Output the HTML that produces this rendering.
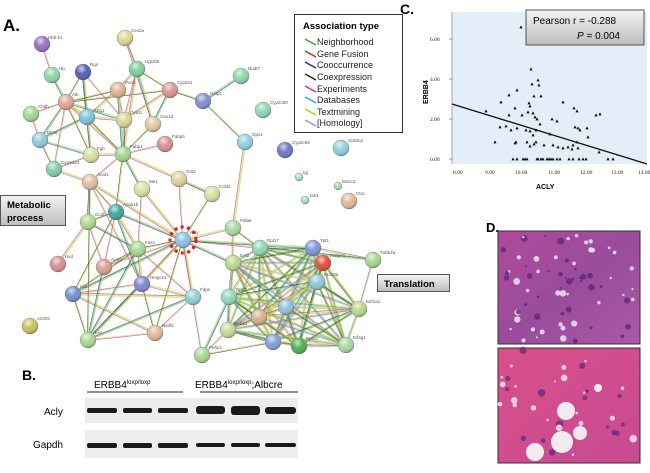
<!DOCTYPE html>
<html><head><meta charset="utf-8"><style>
html,body{margin:0;padding:0;background:#fff;width:650px;height:473px;overflow:hidden}
svg{display:block;font-family:"Liberation Sans",sans-serif}
.nl text{font-size:4.5px;fill:#555}
</style></head><body>
<svg id="s" width="650" height="473" viewBox="0 0 650 473" xmlns="http://www.w3.org/2000/svg">
<defs>
<radialGradient id="g" cx="40%" cy="30%" r="70%"><stop offset="0" stop-color="#fff" stop-opacity=".7"/><stop offset=".5" stop-color="#fff" stop-opacity="0"/><stop offset="1" stop-color="#000" stop-opacity=".25"/></radialGradient>
<linearGradient id="bx" x1="0" y1="0" x2="0" y2="1"><stop offset="0" stop-color="#f4f4f4"/><stop offset="1" stop-color="#bdbdbd"/></linearGradient>
<linearGradient id="he1" x1="0" y1="0" x2="1" y2="1"><stop offset="0" stop-color="#b04a9a"/><stop offset=".5" stop-color="#9a4c9c"/><stop offset="1" stop-color="#a85aa8"/></linearGradient>
<linearGradient id="he2" x1="0" y1="0" x2="1" y2="1"><stop offset="0" stop-color="#d8508a"/><stop offset="1" stop-color="#c84a92"/></linearGradient>
</defs>
<g id="edges"></g>
<g id="nodes"></g>
<g class="nl">
<text x="48" y="39">Hbb-b1</text><text x="131" y="32">Ces2a</text><text x="59" y="70">Hp</text><text x="90" y="66">Rgn</text><text x="145" y="63">Ugt2b5</text><text x="125" y="84">Pon1</text><text x="177" y="84">Cyp2e1</text><text x="210" y="95">Gstp1</text><text x="248" y="70">Nudt7</text><text x="72" y="96">Alb</text><text x="270" y="104">Cyp2c50</text><text x="38" y="108">Chdh</text><text x="94" y="112">Kng1</text><text x="130" y="114">Ces1c</text><text x="160" y="118">Ces1d</text><text x="47" y="134">Bhmt</text><text x="172" y="138">Fabp5</text><text x="252" y="136">Gpx1</text><text x="292" y="144">Cyp2c69</text><text x="348" y="142">Sult3a1</text><text x="97" y="150">Fgb</text><text x="130" y="148">Fabp1</text><text x="61" y="164">Cyp2d10</text><text x="303" y="174">Igj</text><text x="342" y="183">Mosc2</text><text x="97" y="176">Acat1</text><text x="186" y="173">Got2</text><text x="149" y="183">Me1</text><text x="219" y="188">Ccbl2</text><text x="310" y="197">Iah1</text><text x="356" y="195">Ctsc</text><text x="123" y="206">Acaa1b</text><text x="95" y="216">Gcdh</text><text x="240" y="222">Pdia6</text><text x="190" y="234">Acly</text><text x="267" y="242">Rpl17</text><text x="320" y="242">Tpt1</text><text x="145" y="244">Fasn</text><text x="240" y="257">Eef2</text><text x="330" y="257">Pabpc1</text><text x="380" y="254">Tubb2a</text><text x="65" y="258">Hvd</text><text x="111" y="261">Acsl2</text><text x="324" y="276">Rpl13a</text><text x="150" y="279">Hmgcs1</text><text x="80" y="288">Idi1</text><text x="200" y="291">Fdps</text><text x="236" y="291">Rps3</text><text x="366" y="303">Eef1a1</text><text x="37" y="320">As3mt</text><text x="233" y="325">Serbp1</text><text x="162" y="327">Nsdhl</text><text x="95" y="334">Lss</text><text x="306" y="340">Rpl18</text><text x="353" y="339">Eif4g1</text><text x="209" y="349">Pebp1</text>
</g>
<!-- Acly dashed ring -->
<circle cx="183" cy="240" r="13" fill="none" stroke="#e81010" stroke-width="3" stroke-dasharray="3 3.5"/>
<text x="3" y="31" font-size="17" font-weight="bold">A.</text>
<!-- legend -->
<rect x="294.5" y="14.5" width="108" height="118" fill="#fff" stroke="#333" stroke-width="1"/>
<text x="303" y="29" font-size="9.5" font-weight="bold">Association  type</text>
<g font-size="9" fill="#222">
<line x1="305" y1="39" x2="316" y2="45" stroke="#2ab02a" stroke-width="1.5"/><text x="317" y="45">Neighborhood</text>
<line x1="305" y1="51" x2="316" y2="57" stroke="#e82020" stroke-width="1.5"/><text x="317" y="57">Gene Fusion</text>
<line x1="305" y1="62" x2="316" y2="68" stroke="#2030a0" stroke-width="1.5"/><text x="317" y="68">Cooccurrence</text>
<line x1="305" y1="74" x2="316" y2="80" stroke="#222" stroke-width="1.5"/><text x="317" y="80">Coexpression</text>
<line x1="305" y1="86" x2="316" y2="92" stroke="#c030c0" stroke-width="1.5"/><text x="317" y="92">Experiments</text>
<line x1="305" y1="97" x2="316" y2="103" stroke="#20b0d0" stroke-width="1.5"/><text x="317" y="103">Databases</text>
<line x1="305" y1="109" x2="316" y2="115" stroke="#b0d020" stroke-width="1.5"/><text x="317" y="115">Textmining</text>
<line x1="305" y1="120" x2="316" y2="126" stroke="#a090e0" stroke-width="1.5"/><text x="317" y="126">[Homology]</text>
</g>
<rect x="0.5" y="195.5" width="65" height="30" fill="url(#bx)" stroke="#555"/>
<text x="7" y="208" font-size="9.5" font-weight="bold">Metabolic</text>
<text x="7" y="221" font-size="9.5" font-weight="bold">process</text>
<rect x="377.5" y="274.5" width="72" height="17" fill="url(#bx)" stroke="#555"/>
<text x="384" y="287" font-size="9.5" font-weight="bold">Translation</text>

<!-- C -->
<text x="400" y="14" font-size="14" font-weight="bold">C.</text>
<rect x="452" y="12" width="195" height="152" fill="#e3eef8"/>
<line x1="452" y1="12" x2="452" y2="164" stroke="#888" stroke-width=".7"/>
<g id="pts"></g>
<line x1="452" y1="104" x2="647" y2="164" stroke="#111" stroke-width="1.3"/>
<g font-family="Liberation Serif,serif" font-size="5.5" fill="#222">
<text x="430" y="41">6.00</text><text x="430" y="81">4.00</text><text x="430" y="121">2.00</text><text x="430" y="161">0.00</text>
<text x="453" y="174">8.00</text><text x="485" y="174">9.00</text><text x="515" y="174">10.00</text><text x="548" y="174">11.00</text><text x="580" y="174">12.00</text><text x="611" y="174">13.00</text><text x="638" y="174">14.00</text>
</g>
<g stroke="#555" stroke-width=".6"><line x1="449" y1="39" x2="452" y2="39"/><line x1="449" y1="79" x2="452" y2="79"/><line x1="449" y1="119" x2="452" y2="119"/><line x1="449" y1="159" x2="452" y2="159"/></g>
<text x="0" y="0" font-size="7" font-weight="bold" transform="translate(428,104) rotate(-90)">ERBB4</text>
<text x="536" y="189" font-size="7" font-weight="bold">ACLY</text>
<rect x="526" y="10" width="118" height="35" fill="url(#bx)" stroke="#555"/>
<text x="533" y="24" font-size="10">Pearson r = -0.288</text>
<text x="577" y="39" font-size="10"><tspan font-style="italic">P</tspan> = 0.004</text>

<!-- B -->
<text x="22" y="380" font-size="14" font-weight="bold">B.</text>
<text x="94" y="388" font-size="10">ERBB4<tspan font-size="6" dy="-4">loxp/loxp</tspan></text>
<line x1="87" y1="392" x2="183" y2="392" stroke="#222" stroke-width="1"/>
<text x="195" y="388" font-size="10">ERBB4<tspan font-size="6" dy="-4">loxp/loxp</tspan><tspan dy="4">;Albcre</tspan></text>
<line x1="200" y1="392" x2="298" y2="392" stroke="#222" stroke-width="1"/>
<rect x="85" y="398" width="213" height="25" fill="#ececec"/>
<rect x="85" y="430" width="213" height="28" fill="#eeeeee"/>
<text x="44" y="415" font-size="10">Acly</text>
<text x="33" y="448" font-size="10">Gapdh</text>
<g fill="#1a1a1a">
<rect x="87" y="408" width="30" height="5" rx="2"/><rect x="123" y="408" width="29" height="5" rx="2"/><rect x="158" y="408" width="30" height="5" rx="2"/>
<rect x="196" y="406" width="29" height="8" rx="3"/><rect x="231" y="406" width="29" height="9" rx="3"/><rect x="265" y="407" width="31" height="7" rx="3"/>
<rect x="87" y="443" width="30" height="5" rx="2"/><rect x="123" y="443" width="29" height="5" rx="2"/><rect x="158" y="443" width="30" height="5" rx="2"/>
<rect x="196" y="443" width="29" height="4" rx="2"/><rect x="231" y="443" width="29" height="4" rx="2"/><rect x="265" y="443" width="31" height="4" rx="2"/>
</g>

<!-- D -->
<text x="486" y="232" font-size="13" font-weight="bold">D.</text>
<rect x="498" y="231" width="142" height="113" fill="url(#he1)" stroke="#333"/>
<rect x="498" y="348" width="142" height="115" fill="url(#he2)" stroke="#333"/>
<g id="cells"></g>
</svg>
<script>
var N={"Hbb-b1":[42,44,"#9b6fc4"],"Ces2a":[125,38,"#d8d890"],"Hp":[52,75,"#8fd6a8"],"Rgn":[83,72,"#5560b8"],"Ugt2b5":[137,69,"#7fcf9a"],"Pon1":[118,90,"#e0b090"],"Cyp2e1":[170,90,"#d89890"],"Gstp1":[203,101,"#7f8fd0"],"Nudt7":[241,76,"#8fd6a8"],"Alb":[66,102,"#e0a890"],"Cyp2c50":[263,110,"#8fd6b8"],"Chdh":[31,114,"#9fd890"],"Kng1":[87,117,"#80c0e0"],"Ces1c":[124,120,"#d8d890"],"Ces1d":[153,124,"#e0c8a0"],"Btmh":[40,140,"#90c8e0"],"Fabp5":[165,144,"#d89098"],"Gpx1":[245,142,"#90d0e0"],"Cyp2c69":[285,150,"#6f78c8"],"Sult3a1":[341,148,"#90d0d8"],"Fgb":[91,155,"#d0e0a0"],"Fabp1":[123,154,"#9fd890"],"Cyp2d10":[54,169,"#80d0a8"],"Igj":[299,177,"#a0dcd8",4],"Mosc2":[338,186,"#a0dca8",4],"Acat1":[90,182,"#e0c0a0"],"Got2":[179,179,"#e0d0a0"],"Me1":[142,189,"#d8e0a0"],"Cbl2":[212,194,"#d0e0a0"],"Iah1":[305,200,"#a0dcc8",4],"Ctsc":[349,201,"#e0b898"],"Acaa1b":[116,212,"#40a8a0"],"Gcdh":[88,222,"#b0d890"],"Pdia6":[233,228,"#a8d8a0"],"Acly":[183,240,"#90c0e0"],"Rpl17":[260,248,"#90d8b0"],"Tpt1":[313,248,"#8098d8"],"Fasn":[138,249,"#a8d890"],"Eef2":[233,263,"#b8d890"],"Pabpc1":[323,263,"#e05040"],"Tubb2a":[373,260,"#a8d890"],"Hvd":[58,264,"#d89090"],"Acsl":[104,267,"#d8a090"],"Rpl3a":[317,282,"#90c8e0"],"Hmgcs1":[142,284,"#8088d0"],"Idi1":[73,294,"#7090d0"],"Fdps":[193,297,"#90d0d0"],"Rps":[229,297,"#90d8b8"],"Rc":[286,307,"#90c0e0"],"Eef1a1":[359,309,"#b8d890"],"Rb":[259,317,"#d8b090"],"As3mt":[30,326,"#c8c060"],"Srcbe":[228,330,"#c8d898"],"Nsdhl":[155,333,"#e0b898"],"Lss":[88,340,"#a8d890"],"Rbl":[273,342,"#80a0d8"],"Rpl18":[299,346,"#50b050"],"Eif4g1":[346,345,"#a8d8a0"],"Pebp1":[202,355,"#a8d890"]};
var E="Hbb-b1 Hp,Hp Alb,Rgn Alb,Rgn Kng1,Rgn Ces1c,Rgn Fgb,Alb Pon1,Alb Kng1,Alb Chdh,Alb Btmh,Alb Fgb,Alb Fabp1,Alb Cyp2d10,Alb Ces1c,Alb Cyp2e1,Pon1 Kng1,Pon1 Ces1c,Pon1 Fabp1,Ugt2b5 Ces2a,Ugt2b5 Pon1,Ugt2b5 Ces1c,Ugt2b5 Ces1d,Ugt2b5 Cyp2e1,Ugt2b5 Fabp1,Ces2a Ces1d,Cyp2e1 Ces1d,Cyp2e1 Gstp1,Cyp2e1 Ces1c,Kng1 Fgb,Kng1 Btmh,Kng1 Fabp1,Kng1 Ces1c,Chdh Btmh,Btmh Fgb,Btmh Cyp2d10,Fgb Fabp1,Fabp1 Fabp5,Fabp1 Ces1c,Fabp1 Ces1d,Fabp1 Got2,Fabp1 Acat1,Fabp1 Me1,Fabp1 Acaa1b,Cyp2d10 Acat1,Cyp2d10 Fgb,Gstp1 Nudt7,Gstp1 Gpx1,Gpx1 Pdia6,Got2 Acly,Got2 Cbl2,Cbl2 Acly,Me1 Acly,Me1 Fasn,Acat1 Gcdh,Acat1 Acaa1b,Acat1 Acly,Acat1 Hmgcs1,Acaa1b Acly,Acaa1b Gcdh,Acaa1b Fasn,Acaa1b Acsl,Acaa1b Hmgcs1,Acaa1b Idi1,Gcdh Hvd,Gcdh Acsl,Gcdh Fasn,Acly Fasn,Acly Pdia6,Acly Rpl17,Acly Eef2,Acly Hmgcs1,Acly Fdps,Acly Acsl,Acly Idi1,Acly Nsdhl,Acly Lss,Acly Pebp1,Acly Tpt1,Fasn Acsl,Fasn Hmgcs1,Fasn Fdps,Fasn Lss,Fasn Idi1,Hmgcs1 Fdps,Hmgcs1 Idi1,Hmgcs1 Lss,Hmgcs1 Nsdhl,Fdps Idi1,Fdps Nsdhl,Fdps Lss,Idi1 Lss,Idi1 Nsdhl,Lss Nsdhl,Acsl Lss,Pdia6 Rpl17,Pdia6 Eef2,Pebp1 Srcbe,Pebp1 Rps,Pebp1 Rbl,Tubb2a Tpt1,Tubb2a Eef1a1,Tubb2a Rpl17,Acat1 Lss".split(",");
var T=["Rpl17","Tpt1","Pabpc1","Eef2","Rpl3a","Rps","Eef1a1","Rc","Rb","Srcbe","Rbl","Rpl18","Eif4g1"];
for(var i=0;i<T.length;i++)for(var j=i+1;j<T.length;j++)E.push(T[i]+" "+T[j]+" t");
var C=["#c0d830","#c030c0","#30b8d8","#333","#2ab02a","#a090e0"];
var eg=document.getElementById("edges"),h="";
E.forEach(function(e,k){var p=e.split(" "),a=N[p[0]],b=N[p[1]];if(!a||!b)return;
var dx=b[0]-a[0],dy=b[1]-a[1],L=Math.sqrt(dx*dx+dy*dy)||1,nx=-dy/L,ny=dx/L;
var n=p[2]?3:2+(k%2);for(var q=0;q<n;q++){var o=(q-(n-1)/2)*0.9,c=C[(q+k)%(p[2]?6:4)];if(q==0)c=C[0];
h+='<line x1="'+(a[0]+nx*o)+'" y1="'+(a[1]+ny*o)+'" x2="'+(b[0]+nx*o)+'" y2="'+(b[1]+ny*o)+'" stroke="'+c+'" stroke-width="0.6" opacity="0.85"/>';}});
eg.innerHTML=h;h="";
for(var k in N){var v=N[k],r=v[3]||8;h+='<circle cx="'+v[0]+'" cy="'+v[1]+'" r="'+r+'" fill="'+v[2]+'" stroke="#777" stroke-width=".4"/><circle cx="'+v[0]+'" cy="'+v[1]+'" r="'+r+'" fill="url(#g)"/>';}
document.getElementById("nodes").innerHTML=h;
var P=[[521,27],[531,69],[532,84],[538,80],[539,85],[541,96],[534,96],[517,90],[509,95],[501,102],[486,111],[515,108],[509,115],[522,115],[528,112],[530,106],[529,103],[533,113],[535,117],[537,119],[540,124],[500,127],[506,126],[511,130],[517,128],[526,130],[530,131],[533,135],[536,130],[527,142],[530,146],[534,144],[536,142],[516,142],[515,143],[495,142],[544,145],[550,134],[552,119],[557,121],[563,102],[553,145],[558,147],[563,148],[568,147],[572,149],[573,145],[577,142],[578,148],[577,111],[578,128],[574,108],[580,130],[587,128],[588,137],[600,114],[599,152],[596,115],[575,127]];
[513,517,523,525,527,537,538,541,543,547,549,551,553,557,560,569,573,579,583,586,608,613].forEach(function(x){P.push([x,159]);});
h="";P.forEach(function(p){h+='<path d="M'+p[0]+' '+(p[1]-1.6)+'l1.6 3h-3.2z" fill="#111"/>';});
document.getElementById("pts").innerHTML=h;
h="";var s=7;function R(){s=(s*9301+49297)%233280;return s/233280;}
for(var i=0;i<70;i++){h+='<circle cx="'+(500+R()*138)+'" cy="'+(233+R()*109)+'" r="'+(1+R()*2.5)+'" fill="'+(R()<.5?"#f4eef6":"#5a2a78")+'" opacity=".8"/>';}
for(var i=0;i<40;i++){h+='<circle cx="'+(500+R()*138)+'" cy="'+(350+R()*111)+'" r="'+(1+R()*3)+'" fill="'+(R()<.5?"#f6eef2":"#6a2a80")+'" opacity=".8"/>';}
h+='<circle cx="562" cy="442" r="11" fill="#f2ecee"/><circle cx="535" cy="452" r="9" fill="#f2ecee"/><circle cx="566" cy="411" r="9" fill="#f2ecee"/><circle cx="580" cy="433" r="7" fill="#f0e8ec"/><circle cx="598" cy="388" r="4" fill="#f2ecee"/>';
document.getElementById("cells").innerHTML=h;
</script>
</body></html>
